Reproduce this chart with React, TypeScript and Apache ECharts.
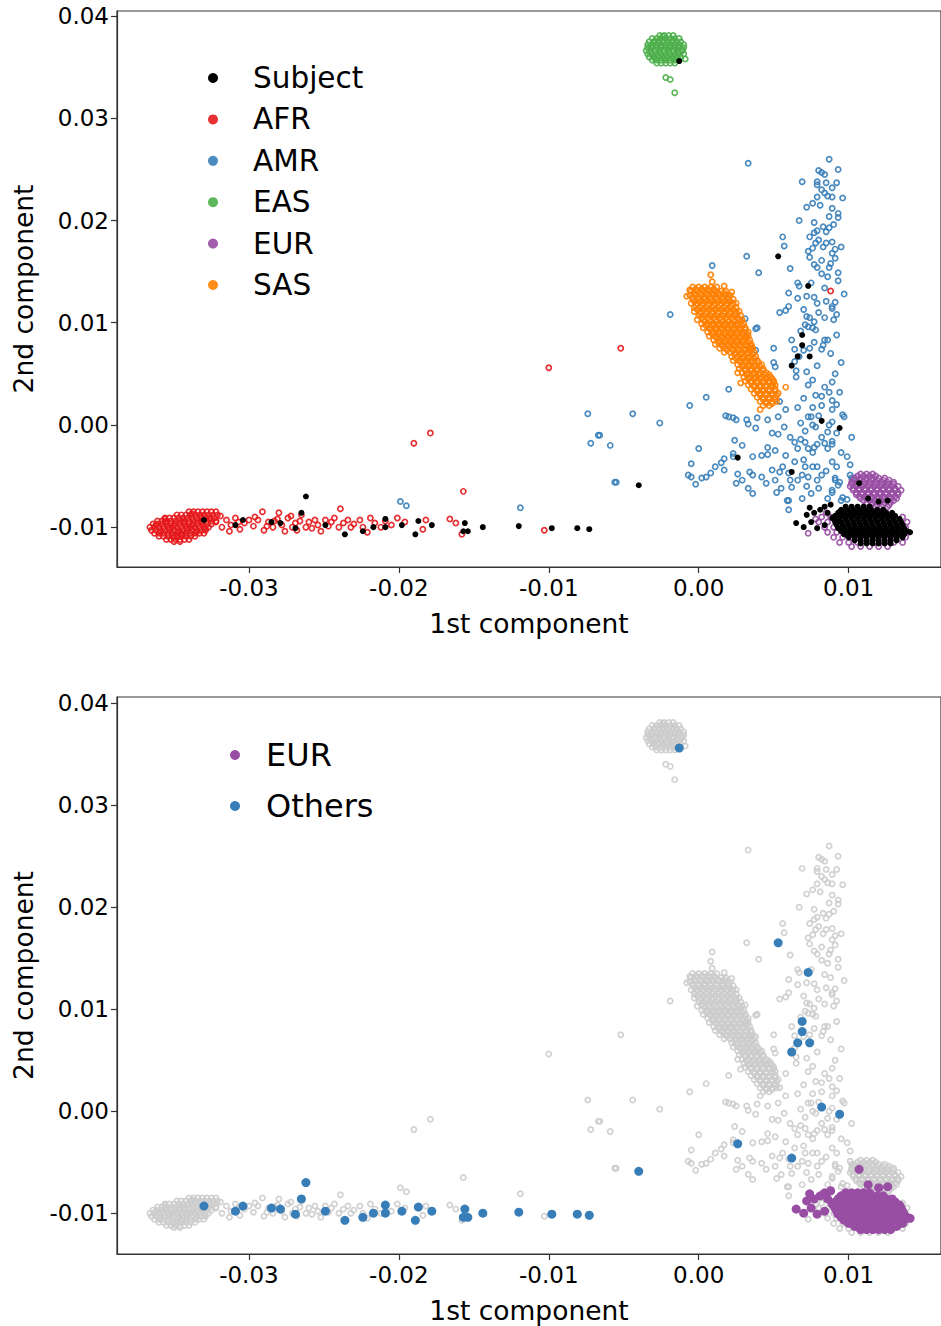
import React, { useEffect, useRef } from "react";
import * as echarts from "echarts";

// All coordinates below are in units of 1e-4 (component score x 10000)

const AFR: number[][] = [
  // dense core
  [-340, -85], [-337, -85], [-334, -85], [-331, -85], [-328, -85], [-325, -85], [-322, -85],
  [-348, -88], [-345, -88], [-342, -88], [-339, -88], [-336, -88], [-333, -88], [-330, -88], [-327, -88], [-324, -88], [-321, -88],
  [-356, -91], [-353, -91], [-350, -91], [-347, -91], [-344, -91], [-341, -91], [-338, -91], [-335, -91], [-332, -91], [-329, -91], [-326, -91], [-323, -91],
  [-361, -94], [-358, -94], [-355, -94], [-352, -94], [-349, -94], [-346, -94], [-343, -94], [-340, -94], [-337, -94], [-334, -94], [-331, -94], [-328, -94], [-325, -94], [-322, -94],
  [-364, -97], [-361, -97], [-358, -97], [-355, -97], [-352, -97], [-349, -97], [-346, -97], [-343, -97], [-340, -97], [-337, -97], [-334, -97], [-331, -97], [-328, -97], [-325, -97],
  [-366, -100], [-363, -100], [-360, -100], [-357, -100], [-354, -100], [-351, -100], [-348, -100], [-345, -100], [-342, -100], [-339, -100], [-336, -100], [-333, -100], [-330, -100], [-327, -100],
  [-365, -103], [-362, -103], [-359, -103], [-356, -103], [-353, -103], [-350, -103], [-347, -103], [-344, -103], [-341, -103], [-338, -103], [-335, -103], [-332, -103], [-329, -103],
  [-363, -106], [-360, -106], [-357, -106], [-354, -106], [-351, -106], [-348, -106], [-345, -106], [-342, -106], [-339, -106], [-336, -106], [-333, -106], [-330, -106],
  [-360, -109], [-357, -109], [-354, -109], [-351, -109], [-348, -109], [-345, -109], [-342, -109], [-339, -109], [-336, -109],
  [-355, -112], [-352, -112], [-349, -112], [-346, -112], [-343, -112], [-340, -112],
  [-350, -114], [-346, -114],
  [-362, -98], [-356, -95], [-350, -98], [-344, -95], [-338, -98], [-332, -95], [-326, -92], [-359, -105], [-353, -101],
  [-347, -105], [-341, -101], [-335, -105], [-329, -101], [-350, -110], [-344, -107], [-338, -87], [-332, -89], [-356, -92],
  // tail
  [-322, -95], [-315, -93], [-309, -91], [-300, -93], [-291, -85], [-287, -95], [-280, -86], [-278, -98],
  [-274, -91], [-269, -96], [-265, -88], [-260, -95], [-258, -101], [-254, -98], [-249, -93], [-245, -95],
  [-240, -100], [-239, -82], [-234, -93], [-232, -100], [-226, -93], [-221, -105], [-219, -91], [-216, -96],
  [-212, -100], [-201, -91], [-184, -102], [-182, -93], [-166, -92], [-162, -96], [-158, -107], [-103, -103],
  [-318, -100], [-312, -98], [-306, -102], [-303, -96], [-297, -99], [-294, -93], [-290, -103], [-284, -100],
  [-281, -92], [-276, -104], [-271, -100], [-266, -94], [-262, -100], [-256, -93], [-252, -104], [-247, -99],
  [-243, -91], [-237, -96], [-230, -97], [-224, -100], [-209, -94], [-205, -98], [-196, -95],
  [-319, -89], [-313, -104], [-307, -95], [-296, -90], [-288, -99], [-283, -94], [-272, -89], [-268, -103],
  // outliers
  [-190, -18], [-179, -8], [-157, -65], [-100, 56], [-52, 75], [88, 131],
];

const AMR: number[][] = [
  [33, 256], [87, 260], [80, 249], [82, 247], [84, 245], [93, 250], [69, 238], [79, 238], [79, 235], [85, 237],
  [92, 237], [89, 232], [82, 230], [84, 227], [86, 224], [89, 223], [96, 222], [79, 223], [76, 217], [72, 213],
  [89, 212], [93, 207], [93, 203], [87, 204], [67, 200], [77, 198], [83, 194], [87, 193], [79, 190], [77, 188],
  [85, 189], [74, 184], [89, 179], [85, 178], [83, 174], [78, 178], [56, 184], [57, 175], [95, 174], [91, 172],
  [73, 170], [76, 173], [89, 168], [74, 164], [82, 161], [91, 163], [32, 165], [77, 157], [79, 154], [87, 154],
  [93, 149], [82, 148], [86, 145], [40, 149], [61, 153], [66, 139], [67, 136], [75, 139], [93, 141], [60, 129],
  [66, 124], [77, 125], [79, 119], [85, 121], [91, 120], [97, 128], [54, 110], [58, 112], [60, 116], [70, 113],
  [89, 116], [89, 114], [31, 104], [39, 95], [74, 105], [77, 101], [71, 98], [84, 105], [90, 103], [76, 95],
  [9, 156], [-19, 108], [-44, 11], [-26, 2], [-66, -10], [-59, -20], [-55, -56], [-6, 19], [5, 27], [20, 35],
  [38, 94], [38, 73], [50, 75], [50, 61], [51, 57], [62, 83], [64, 74], [64, 62], [65, 53], [65, 47],
  [72, 106], [78, 93], [73, 96], [84, 83], [86, 83], [83, 78], [82, 74], [77, 81], [74, 75], [95, 61],
  [70, 73], [67, 67], [73, 39], [76, 44], [84, 37], [89, 42], [87, 32], [94, 32], [78, 29], [82, 19],
  [89, 24], [89, 15], [70, 26], [66, 17], [76, 17], [75, 8], [73, 8], [76, 0], [54, 23], [58, 15],
  [53, 8], [46, 5], [39, 7], [32, 5], [33, 1], [38, -3], [18, 9], [20, 8], [23, 7], [25, 5],
  [89, 3], [87, 0], [96, 10], [97, 8], [86, -7], [82, -12], [79, -19], [89, -16], [89, -19], [102, -12],
  [68, -14], [61, -12], [64, -17], [66, -23], [71, -17], [73, -23], [76, -27], [77, -22], [84, -18], [86, -23],
  [49, -8], [53, -9], [46, -22], [51, -25], [24, -15], [29, -20], [23, -28], [23, -31], [36, -31], [17, -33],
  [15, -37], [11, -41], [17, -44], [8, -47], [5, -51], [2, -52], [-2, -58], [-5, -51], [-5, -38], [0, -23],
  [-7, -49], [26, -48], [29, -54], [34, -46], [36, -49], [25, -57], [33, -62], [36, -67], [42, -30], [46, -29],
  [49, -44], [42, -51], [45, -57], [51, -54], [52, -66], [54, -46], [56, -41], [61, -54], [62, -61], [66, -54],
  [69, -49], [70, -34], [76, -41], [79, -54], [82, -49], [75, -67], [69, -72], [60, -83], [59, -74], [95, -27],
  [99, -31], [101, -39], [89, -36], [91, -54], [89, -64], [94, -56], [95, -74], [101, -49], [102, -52], [-74, 11],
  [-72, -18], [-67, -10], [-56, -56], [-199, -75], [-195, -79], [-119, -81], [60, -47], [71, -41], [79, -41], [73, -51],
  [91, -52], [93, -59], [60, -74], [89, -66], [96, -71], [99, -73],
  [81, 215], [90, 196], [80, 181], [88, 158], [84, 134], [72, 126], [92, 108], [80, 110], [68, 92], [92, 88],
  [88, 70], [79, 58], [91, 50], [72, 52], [82, 28], [92, 20], [80, 9], [68, 2], [57, -2], [92, -8],
  [78, -2], [71, -6], [58, -30], [64, -36], [85, -45], [92, -41], [80, -62], [86, -72], [72, -60], [55, -62],
];

const EAS: number[][] = [
  [-26, 381], [-23, 381], [-20, 381], [-17, 381],
  [-31, 378], [-28, 378], [-25, 378], [-22, 378], [-19, 378], [-16, 378], [-13, 378],
  [-33, 375], [-30, 375], [-27, 375], [-24, 375], [-21, 375], [-18, 375], [-15, 375], [-12, 375],
  [-34, 372], [-31, 372], [-28, 372], [-25, 372], [-22, 372], [-19, 372], [-16, 372], [-13, 372], [-10, 372],
  [-34, 369], [-31, 369], [-28, 369], [-25, 369], [-22, 369], [-19, 369], [-16, 369], [-13, 369], [-10, 369],
  [-35, 366], [-32, 366], [-29, 366], [-26, 366], [-23, 366], [-20, 366], [-17, 366], [-14, 366], [-11, 366],
  [-34, 363], [-31, 363], [-28, 363], [-25, 363], [-22, 363], [-19, 363], [-16, 363], [-13, 363], [-10, 363],
  [-33, 360], [-30, 360], [-27, 360], [-24, 360], [-21, 360], [-18, 360], [-15, 360], [-12, 360],
  [-31, 357], [-28, 357], [-25, 357], [-22, 357], [-19, 357], [-16, 357], [-13, 357],
  [-28, 354], [-25, 354], [-22, 354], [-19, 354], [-16, 354],
  [-29, 376], [-23, 376], [-17, 376], [-32, 370], [-26, 370], [-20, 370], [-14, 370], [-32, 364], [-26, 364],
  [-20, 364], [-14, 364], [-29, 358], [-23, 358], [-17, 358], [-11, 367], [-24, 380],
  [-9, 358], [-22, 340], [-19, 338], [-16, 325],
];

const EUR: number[][] = [
  [108, -48], [112, -48], [116, -48],
  [104, -52], [108, -52], [112, -52], [116, -52], [120, -52], [124, -52],
  [102, -56], [106, -56], [110, -56], [114, -56], [118, -56], [122, -56], [126, -56], [130, -56],
  [101, -60], [105, -60], [109, -60], [113, -60], [117, -60], [121, -60], [125, -60], [129, -60], [133, -60],
  [103, -64], [107, -64], [111, -64], [115, -64], [119, -64], [123, -64], [127, -64], [131, -64], [135, -64],
  [105, -68], [109, -68], [113, -68], [117, -68], [121, -68], [125, -68], [129, -68], [133, -68],
  [108, -72], [112, -72], [116, -72], [120, -72], [124, -72], [128, -72], [132, -72],
  [112, -76], [116, -76], [120, -76], [124, -76], [128, -76],
  [118, -80], [122, -80], [126, -80],
  [106, -50], [110, -50], [114, -50], [118, -50],
  [103, -54], [107, -54], [111, -54], [115, -54], [119, -54], [123, -54], [127, -54],
  [102, -58], [106, -58], [110, -58], [114, -58], [118, -58], [122, -58], [126, -58], [130, -58],
  [103, -62], [107, -62], [111, -62], [115, -62], [119, -62], [123, -62], [127, -62], [131, -62],
  [105, -66], [109, -66], [113, -66], [117, -66], [121, -66], [125, -66], [129, -66], [133, -66],
  [107, -70], [111, -70], [115, -70], [119, -70], [123, -70], [127, -70], [131, -70],
  [110, -74], [114, -74], [118, -74], [122, -74], [126, -74], [130, -74],
  [115, -78], [119, -78], [123, -78], [127, -78],
  [85, -86], [95, -86], [105, -86], [115, -86], [125, -86],
  [82, -90], [88, -90], [94, -90], [100, -90], [106, -90], [112, -90], [118, -90], [124, -90], [130, -90], [136, -90],
  [80, -95], [86, -95], [92, -95], [98, -95], [104, -95], [110, -95], [116, -95], [122, -95], [128, -95], [134, -95], [139, -95],
  [84, -100], [90, -100], [96, -100], [102, -100], [108, -100], [114, -100], [120, -100], [126, -100], [132, -100], [138, -100],
  [86, -105], [92, -105], [98, -105], [104, -105], [110, -105], [116, -105], [122, -105], [128, -105], [134, -105], [140, -105],
  [90, -110], [96, -110], [102, -110], [108, -110], [114, -110], [120, -110], [126, -110], [132, -110], [138, -110],
  [94, -115], [100, -115], [106, -115], [112, -115], [118, -115], [124, -115], [130, -115], [136, -115],
  [102, -119], [108, -119], [114, -119], [120, -119], [126, -119],
  [73, -106], [78, -92],
];

const SAS: number[][] = [
  [-4, 135], [0, 135], [4, 135], [8, 135], [12, 135],
  [-5, 131], [-1, 131], [3, 131], [7, 131], [11, 131], [15, 131], [18, 131],
  [-6, 127], [-2, 127], [2, 127], [6, 127], [10, 127], [14, 127], [18, 127], [21, 127],
  [-4, 123], [0, 123], [4, 123], [8, 123], [12, 123], [16, 123], [20, 123], [23, 123],
  [-5, 119], [-1, 119], [3, 119], [7, 119], [11, 119], [15, 119], [19, 119], [23, 119], [25, 119],
  [-3, 115], [1, 115], [5, 115], [9, 115], [13, 115], [17, 115], [21, 115], [25, 115],
  [-3, 111], [1, 111], [5, 111], [9, 111], [13, 111], [17, 111], [21, 111], [25, 111], [27, 111],
  [0, 107], [4, 107], [8, 107], [12, 107], [16, 107], [20, 107], [24, 107], [28, 107],
  [-1, 103], [3, 103], [7, 103], [11, 103], [15, 103], [19, 103], [23, 103], [27, 103], [29, 103],
  [2, 99], [6, 99], [10, 99], [14, 99], [18, 99], [22, 99], [26, 99], [30, 99],
  [3, 95], [7, 95], [11, 95], [15, 95], [19, 95], [23, 95], [27, 95], [31, 95],
  [6, 91], [10, 91], [14, 91], [18, 91], [22, 91], [26, 91], [30, 91], [33, 91],
  [7, 87], [11, 87], [15, 87], [19, 87], [23, 87], [27, 87], [31, 87], [33, 87],
  [10, 83], [14, 83], [18, 83], [22, 83], [26, 83], [30, 83], [34, 83],
  [11, 79], [15, 79], [19, 79], [23, 79], [27, 79], [31, 79], [35, 79],
  [14, 75], [18, 75], [22, 75], [26, 75], [30, 75], [34, 75], [36, 75],
  [17, 71], [21, 71], [25, 71], [29, 71], [33, 71], [37, 71],
  [22, 67], [26, 67], [30, 67], [34, 67], [38, 67],
  [23, 63], [27, 63], [31, 63], [35, 63], [39, 63],
  [26, 59], [30, 59], [34, 59], [38, 59], [42, 59],
  [27, 55], [31, 55], [35, 55], [39, 55], [43, 55],
  [29, 51], [33, 51], [37, 51], [41, 51], [45, 51],
  [30, 47], [34, 47], [38, 47], [42, 47], [46, 47], [48, 47],
  [31, 43], [35, 43], [39, 43], [43, 43], [47, 43], [50, 43],
  [33, 39], [37, 39], [41, 39], [45, 39], [49, 39], [51, 39],
  [35, 35], [39, 35], [43, 35], [47, 35], [51, 35],
  [37, 31], [41, 31], [45, 31], [49, 31], [53, 31],
  [39, 27], [43, 27], [47, 27], [51, 27],
  [41, 23], [45, 23], [49, 23], [52, 23],
  [43, 19], [47, 19],
  // second layer, offset
  [-2, 133], [2, 133], [6, 133], [10, 133],
  [-3, 129], [1, 129], [5, 129], [9, 129], [13, 129], [17, 129],
  [-4, 125], [0, 125], [4, 125], [8, 125], [12, 125], [16, 125], [20, 125],
  [-3, 121], [1, 121], [5, 121], [9, 121], [13, 121], [17, 121], [21, 121],
  [-2, 117], [2, 117], [6, 117], [10, 117], [14, 117], [18, 117], [22, 117],
  [-1, 113], [3, 113], [7, 113], [11, 113], [15, 113], [19, 113], [23, 113],
  [1, 109], [5, 109], [9, 109], [13, 109], [17, 109], [21, 109], [25, 109],
  [2, 105], [6, 105], [10, 105], [14, 105], [18, 105], [22, 105], [26, 105],
  [4, 101], [8, 101], [12, 101], [16, 101], [20, 101], [24, 101], [28, 101],
  [5, 97], [9, 97], [13, 97], [17, 97], [21, 97], [25, 97], [29, 97],
  [8, 93], [12, 93], [16, 93], [20, 93], [24, 93], [28, 93], [31, 93],
  [9, 89], [13, 89], [17, 89], [21, 89], [25, 89], [29, 89], [32, 89],
  [12, 85], [16, 85], [20, 85], [24, 85], [28, 85], [32, 85],
  [13, 81], [17, 81], [21, 81], [25, 81], [29, 81], [33, 81],
  [16, 77], [20, 77], [24, 77], [28, 77], [32, 77], [35, 77],
  [19, 73], [23, 73], [27, 73], [31, 73], [35, 73],
  [24, 69], [28, 69], [32, 69], [36, 69],
  [25, 65], [29, 65], [33, 65], [37, 65],
  [28, 61], [32, 61], [36, 61], [40, 61],
  [29, 57], [33, 57], [37, 57], [41, 57],
  [31, 53], [35, 53], [39, 53], [43, 53],
  [32, 49], [36, 49], [40, 49], [44, 49], [47, 49],
  [33, 45], [37, 45], [41, 45], [45, 45], [49, 45],
  [35, 41], [39, 41], [43, 41], [47, 41], [50, 41],
  [37, 37], [41, 37], [45, 37], [49, 37],
  [39, 33], [43, 33], [47, 33], [51, 33],
  [41, 29], [45, 29], [49, 29], [52, 29],
  [43, 25], [47, 25], [51, 25],
  [45, 21], [49, 21],
  // outliers
  [8, 147], [9, 140], [17, 136], [-6, 132], [-8, 126], [41, 15], [58, 37], [26, 51], [28, 41], [22, 130],
];

const SUBJECT_EUR: number[][] = [
  [65, -96], [74, -81], [77, -86], [81, -83], [84, -80], [86, -86], [89, -91], [94, -85], [92, -95],
  [72, -88], [75, -95], [79, -101], [70, -100], [84, -98], [88, -78],
  [98, -80], [102, -80], [106, -80], [110, -80], [114, -80],
  [95, -83], [99, -83], [103, -83], [107, -83], [111, -83], [115, -83], [119, -83], [123, -83],
  [93, -86], [97, -86], [101, -86], [105, -86], [109, -86], [113, -86], [117, -86], [121, -86], [125, -86], [129, -86],
  [91, -89], [95, -89], [99, -89], [103, -89], [107, -89], [111, -89], [115, -89], [119, -89], [123, -89], [127, -89], [131, -89],
  [90, -92], [94, -92], [98, -92], [102, -92], [106, -92], [110, -92], [114, -92], [118, -92], [122, -92], [126, -92], [130, -92], [134, -92],
  [91, -95], [95, -95], [99, -95], [103, -95], [107, -95], [111, -95], [115, -95], [119, -95], [123, -95], [127, -95], [131, -95], [135, -95],
  [92, -98], [96, -98], [100, -98], [104, -98], [108, -98], [112, -98], [116, -98], [120, -98], [124, -98], [128, -98], [132, -98], [136, -98],
  [93, -101], [97, -101], [101, -101], [105, -101], [109, -101], [113, -101], [117, -101], [121, -101], [125, -101], [129, -101], [133, -101], [137, -101],
  [95, -104], [99, -104], [103, -104], [107, -104], [111, -104], [115, -104], [119, -104], [123, -104], [127, -104], [131, -104], [135, -104], [139, -104],
  [97, -107], [101, -107], [105, -107], [109, -107], [113, -107], [117, -107], [121, -107], [125, -107], [129, -107], [133, -107], [137, -107],
  [100, -110], [104, -110], [108, -110], [112, -110], [116, -110], [120, -110], [124, -110], [128, -110], [132, -110], [136, -110],
  [104, -113], [108, -113], [112, -113], [116, -113], [120, -113], [124, -113], [128, -113], [132, -113],
  [108, -116], [112, -116], [116, -116], [120, -116], [124, -116], [128, -116],
  [107, -57], [113, -72], [120, -75], [126, -74], [141, -105],
];

const SUBJECT_OTHERS: number[][] = [
  [-330, -93], [-309, -98], [-304, -93], [-285, -95], [-279, -96], [-269, -101], [-265, -86], [-262, -70],
  [-249, -98], [-236, -107], [-224, -104], [-217, -100], [-209, -92], [-209, -100], [-198, -98], [-189, -107],
  [-187, -94], [-178, -98], [-157, -104], [-154, -104], [-156, -96], [-144, -100], [-120, -99], [-98, -101],
  [-81, -101], [-73, -102],
  [-40, -59], [-13, 356], [53, 165], [73, 136], [69, 88], [69, 78], [66, 67], [74, 67], [62, 58],
  [82, 4], [94, -3], [26, -32], [62, -46],
];

const X_TICKS = [-0.03, -0.02, -0.01, 0, 0.01];
const Y_TICKS = [-0.01, 0, 0.01, 0.02, 0.03, 0.04];

const COLORS = {
  Subject: "#000000",
  AFR: "#e41a1c",
  AMR: "#377eb8",
  EAS: "#4daf4a",
  EUR: "#984ea3",
  SAS: "#ff7f00",
  Gray: "#cccccc",
};

const toData = (arr: number[][]) => arr.map(([x, y]) => [x / 10000, y / 10000]);

export default function App() {
  const ref = useRef<HTMLDivElement>(null);

  useEffect(() => {
    if (!ref.current) return;
    const chart = echarts.init(ref.current, null, { renderer: "svg" });
    const font = "DejaVu Sans";

    const hollow = (name: string, data: number[][], color: string, gi: number, size = 5.2) => ({
      type: "scatter",
      name,
      xAxisIndex: gi,
      yAxisIndex: gi,
      data: toData(data),
      symbol: "circle",
      symbolSize: size,
      silent: true,
      itemStyle: { color: "rgba(255,255,255,0)", borderColor: color, borderWidth: 1.7, opacity: 0.9 },
    });
    const filled = (name: string, data: number[][], color: string, gi: number, size: number) => ({
      type: "scatter",
      name,
      xAxisIndex: gi,
      yAxisIndex: gi,
      data: toData(data),
      symbol: "circle",
      symbolSize: size,
      silent: true,
      itemStyle: { color, borderWidth: 0, opacity: 1 },
    });

    const axisLineStyle = { color: "#333", width: 1.2 };
    const xAxis = (gi: number) => ({
      type: "value",
      gridIndex: gi,
      min: -0.0388,
      max: 0.01616,
      name: "1st component",
      nameLocation: "middle",
      nameGap: 43,
      nameTextStyle: { fontFamily: font, fontSize: 26.5, color: "#000" },
      axisLine: { show: true, onZero: false, lineStyle: axisLineStyle },
      axisTick: { show: true, length: 6, customValues: X_TICKS, lineStyle: axisLineStyle },
      axisLabel: {
        customValues: X_TICKS,
        formatter: (v: number) => v.toFixed(2),
        fontFamily: font,
        fontSize: 23,
        color: "#000",
        margin: 9,
      },
      splitLine: { show: false },
    });
    const yAxis = (gi: number, min: number, max: number) => ({
      type: "value",
      gridIndex: gi,
      min,
      max,
      name: "2nd component",
      nameLocation: "middle",
      nameGap: 80,
      nameTextStyle: { fontFamily: font, fontSize: 26.5, color: "#000" },
      axisLine: { show: true, onZero: false, lineStyle: axisLineStyle },
      axisTick: { show: true, length: 6, customValues: Y_TICKS, lineStyle: axisLineStyle },
      axisLabel: {
        customValues: Y_TICKS,
        formatter: (v: number) => v.toFixed(2),
        fontFamily: font,
        fontSize: 23,
        color: "#000",
        margin: 8,
      },
      splitLine: { show: false },
    });

    const refSets: [string, number[][]][] = [
      ["AFR", AFR],
      ["AMR", AMR],
      ["EAS", EAS],
      ["EUR", EUR],
      ["SAS", SAS],
    ];
    const allRef = refSets.reduce((acc: number[][], [, d]) => acc.concat(d), []);

    const option: any = {
      animation: false,
      backgroundColor: "#ffffff",
      grid: [
        { left: 117, top: 11, width: 830, height: 556, show: true, borderColor: "#333", borderWidth: 1.2, backgroundColor: "rgba(0,0,0,0)" },
        { left: 117, top: 697, width: 830, height: 557, show: true, borderColor: "#333", borderWidth: 1.2, backgroundColor: "rgba(0,0,0,0)" },
      ],
      xAxis: [xAxis(0), xAxis(1)],
      yAxis: [yAxis(0, -0.0139, 0.0405), yAxis(1, -0.014, 0.0406)],
      legend: [
        {
          orient: "vertical",
          left: 208,
          top: 63,
          padding: 0,
          itemGap: 11.4,
          itemWidth: 10,
          itemHeight: 10,
          icon: "circle",
          selectedMode: false,
          textStyle: { fontFamily: font, fontSize: 29.5, color: "#000", lineHeight: 30, padding: [0, 0, 0, 30] },
          data: ["Subject", "AFR", "AMR", "EAS", "EUR", "SAS"].map((n) => ({
            name: n,
            itemStyle: { color: (COLORS as any)[n], borderWidth: 0 },
          })),
        },
        {
          orient: "vertical",
          left: 230,
          top: 738,
          padding: 0,
          itemGap: 17,
          itemWidth: 10,
          itemHeight: 10,
          icon: "circle",
          selectedMode: false,
          formatter: (n: string) => (n === "EUR subjects" ? "EUR" : n),
          textStyle: { fontFamily: font, fontSize: 32, color: "#000", lineHeight: 34, padding: [0, 0, 0, 21] },
          data: [
            { name: "EUR subjects", itemStyle: { color: COLORS.EUR, borderWidth: 0 } },
            { name: "Others", itemStyle: { color: COLORS.AMR, borderWidth: 0 } },
          ],
        },
      ],
      series: [
        ...refSets.map(([n, d]) => hollow(n, d, (COLORS as any)[n], 0)),
        filled("Subject", SUBJECT_EUR.concat(SUBJECT_OTHERS), COLORS.Subject, 0, 6),
        hollow("Reference", allRef, COLORS.Gray, 1, 5.2),
        filled("EUR subjects", SUBJECT_EUR, COLORS.EUR, 1, 9),
        filled("Others", SUBJECT_OTHERS, COLORS.AMR, 1, 9),
      ],
    };

    chart.setOption(option);
    return () => chart.dispose();
  }, []);

  return (
    <div
      ref={ref}
      style={{ position: "fixed", left: 0, top: 0, width: 941, height: 1326, background: "#fff" }}
    />
  );
}
